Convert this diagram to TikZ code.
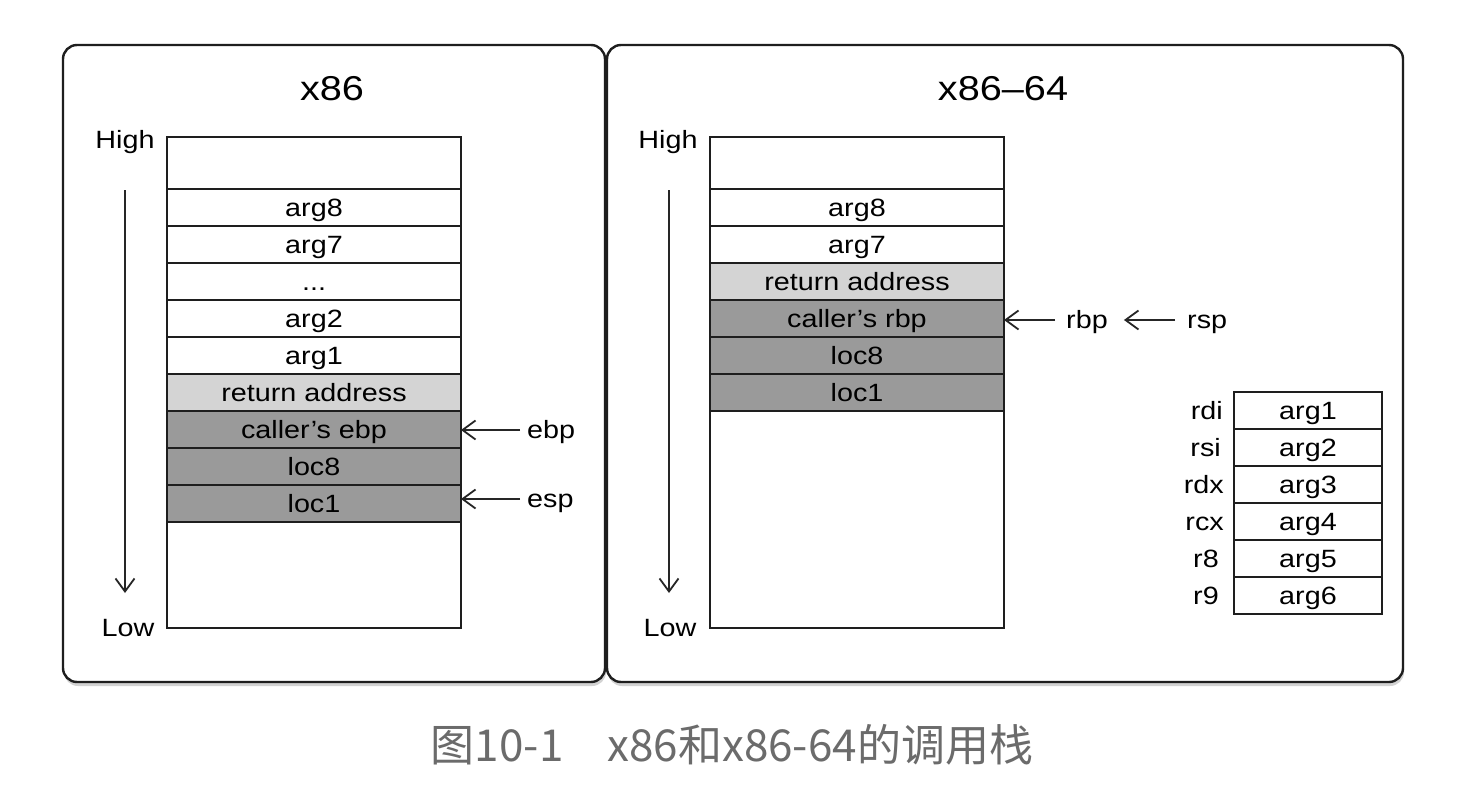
\documentclass[tikz,border=0pt]{standalone}
\usepackage{fontspec}
\setmainfont{Liberation Sans}[FakeStretch=1.15]
\newfontfamily\capfont{Noto Sans CJK SC}
\usepackage{xcolor}
\usetikzlibrary{arrows.meta,positioning,shadows}
\definecolor{retgray}{HTML}{D4D4D4}
\definecolor{savegray}{HTML}{9A9A9A}
\definecolor{edgegray}{HTML}{1E1E1E}
\definecolor{capgray}{HTML}{6B6B6B}
\tikzset{
  cellbox/.style={draw=edgegray,line width=2pt,fill=white,minimum width=294pt,minimum height=37pt,inner sep=0pt,outer sep=0pt,
    text height=17.5pt,text depth=0pt,font=\fontsize{25}{28}\selectfont},
  retbox/.style={cellbox,fill=retgray},
  savebox/.style={cellbox,fill=savegray},
  regbox/.style={cellbox,minimum width=148pt},
  sidetext/.style={inner sep=0pt,text height=17.5pt,text depth=0pt,font=\fontsize{25}{28}\selectfont},
  ptrlabel/.style={sidetext,anchor=west},
  reglabel/.style={sidetext,anchor=east},
  titletext/.style={inner sep=0pt,text height=24pt,text depth=0pt,font=\fontsize{34.5}{38}\selectfont},
  panelbox/.style={draw=edgegray,line width=2.4pt,fill=white,rounded corners=14pt,minimum height=637pt,inner sep=0pt,
    drop shadow={shadow xshift=1pt,shadow yshift=-4pt,opacity=0.35}},
  ptrarrow/.style={-{Straight Barb[length=13pt,width=19pt,line width=1.8pt]},line width=1.8pt,black!85},
  growarrow/.style={ptrarrow},
}
\begin{document}
\begin{tikzpicture}[x=1pt,y=-1pt]
  \useasboundingbox[fill=white] (0,0) rectangle (1468,808);
  % panels
  \node[panelbox,minimum width=542pt] (pLeft) at (334,363.5) {};
  \node[panelbox,minimum width=796pt] (pRight) at (1005,363.5) {};
  \node[titletext] (tX86) at (332,88) {x86};
  \node[titletext] (tX64) at (1003,88) {x86–64};

  % x86 stack
  \node[cellbox,minimum height=52pt] (nLTop) at (314,163) {};
  \node[cellbox] (nLArg8) at (314,207.5) {arg8};
  \node[cellbox] (nLArg7) at (314,244.5) {arg7};
  \node[cellbox] (nLDots) at (314,281.5) {...};
  \node[cellbox] (nLArg2) at (314,318.5) {arg2};
  \node[cellbox] (nLArg1) at (314,355.5) {arg1};
  \node[retbox] (nLRet) at (314,392.5) {return address};
  \node[savebox] (nLEbp) at (314,429.5) {caller’s ebp};
  \node[savebox] (nLLoc8) at (314,466.5) {loc8};
  \node[savebox] (nLLoc1) at (314,503.5) {loc1};
  \node[cellbox,minimum height=106pt] (nLBot) at (314,575) {};
  \node[sidetext] (tLHigh) at (125,140) {High};
  \node[sidetext] (tLLow) at (128,628) {Low};
  \coordinate (aLTop) at (125,190);
  \coordinate (aLBot) at (125,593);
  \draw[growarrow] (aLTop) -- (aLBot);
  \node[ptrlabel] (lEbp) at (527,430) {ebp};
  \node[ptrlabel] (lEsp) at (527,499) {esp};
  \draw[ptrarrow,shorten <=7pt] (lEbp.west) -- (lEbp.west -| nLEbp.east);
  \draw[ptrarrow,shorten <=7pt] (lEsp.west) -- (lEsp.west -| nLLoc1.east);

  % x86-64 stack
  \node[cellbox,minimum height=52pt] (nRTop) at (857,163) {};
  \node[cellbox] (nRArg8) at (857,207.5) {arg8};
  \node[cellbox] (nRArg7) at (857,244.5) {arg7};
  \node[retbox] (nRRet) at (857,281.5) {return address};
  \node[savebox] (nRRbp) at (857,318.5) {caller’s rbp};
  \node[savebox] (nRLoc8) at (857,355.5) {loc8};
  \node[savebox] (nRLoc1) at (857,392.5) {loc1};
  \node[cellbox,minimum height=217pt] (nRBot) at (857,519.5) {};
  \node[sidetext] (tRHigh) at (668,140) {High};
  \node[sidetext] (tRLow) at (670,628) {Low};
  \coordinate (aRTop) at (669,190);
  \coordinate (aRBot) at (669,593);
  \draw[growarrow] (aRTop) -- (aRBot);
  \node[ptrlabel] (lRbp) at (1066,320) {rbp};
  \node[ptrlabel] (lRsp) at (1187,320) {rsp};
  \draw[ptrarrow,shorten <=11pt] (lRbp.west) -- (lRbp.west -| nRRbp.east);
  \draw[ptrarrow,shorten <=12pt,shorten >=16pt] (lRsp.west) -- (lRbp.east);

  % argument registers
  \node[regbox] (nReg1) at (1308,410.5) {arg1};
  \node[regbox] (nReg2) at (1308,447.5) {arg2};
  \node[regbox] (nReg3) at (1308,484.5) {arg3};
  \node[regbox] (nReg4) at (1308,521.5) {arg4};
  \node[regbox] (nReg5) at (1308,558.5) {arg5};
  \node[regbox] (nReg6) at (1308,595.5) {arg6};
  \node[reglabel] (rRdi) at (1223,410.5) {rdi};
  \node[reglabel] (rRsi) at (1221,447.5) {rsi};
  \node[reglabel] (rRdx) at (1224,484.5) {rdx};
  \node[reglabel] (rRcx) at (1224,521.5) {rcx};
  \node[reglabel] (rR8) at (1219,558.5) {r8};
  \node[reglabel] (rR9) at (1219,595.5) {r9};

  % caption
  \node[inner sep=0pt,text=capgray,font=\capfont\fontsize{44}{50}\selectfont] (tCap) at (732,745) {图10-1　x86和x86-64的调用栈};
\end{tikzpicture}
\end{document}
